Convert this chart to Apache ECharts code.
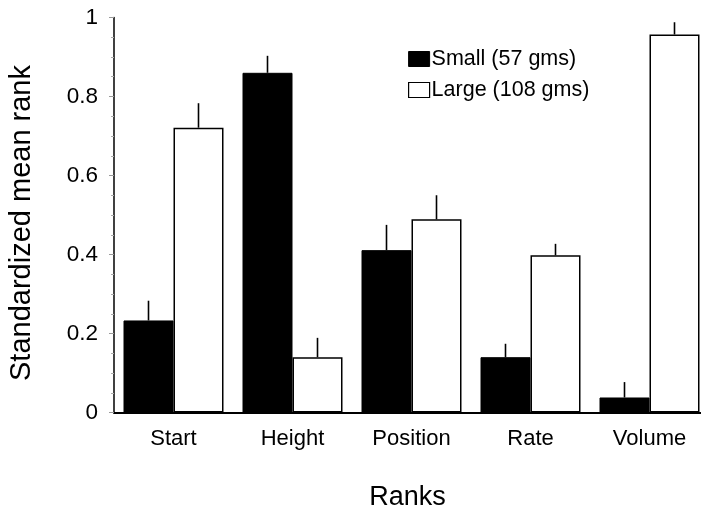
<!DOCTYPE html>
<html>
<head>
<meta charset="utf-8">
<script src="https://cdn.jsdelivr.net/npm/echarts@6/dist/echarts.min.js"></script>
<style>
html,body{margin:0;padding:0;background:#fff;}
#c{width:701px;height:510px;}
</style>
</head>
<body>
<div id="c"></div>
<script>
const categories = ['Start', 'Height', 'Position', 'Rate', 'Volume'];
const smallMean = [0.233, 0.86, 0.411, 0.14, 0.038];
const smallErr  = [0.05, 0.043, 0.064, 0.034, 0.039];
const largeMean = [0.721, 0.14, 0.489, 0.398, 0.957];
const largeErr  = [0.062, 0.049, 0.061, 0.029, 0.031];
const seriesNames = ['Small (57 gms)', 'Large (108 gms)'];

const FONT = "'Liberation Sans', Arial, sans-serif";
const BAR_W = 50;

function errData(means, errs) {
  return means.map((m, i) => [i, m, errs[i]]);
}
function errRenderer(sign) {
  return function (params, api) {
    const c = api.value(0), v = api.value(1), e = api.value(2);
    const p0 = api.coord([c, v]);
    const p1 = api.coord([c, v + e]);
    const x = p0[0] + sign * BAR_W / 2;
    return {
      type: 'line',
      shape: { x1: x, y1: p0[1], x2: x, y2: p1[1] },
      style: { stroke: '#000', lineWidth: 1.6 }
    };
  };
}

const chart = echarts.init(document.getElementById('c'), null, { renderer: 'canvas' });
chart.setOption({
  backgroundColor: '#fff',
  animation: false,
  grid: { left: 114, top: 17.5, right: -8, bottom: 97.5, containLabel: false, outerBoundsMode: 'none' },
  legend: {
    orient: 'vertical',
    left: 408,
    top: 48,
    padding: 0,
    itemWidth: 21,
    itemHeight: 15,
    itemGap: 9,
    icon: 'rect',
    textStyle: { fontFamily: FONT, fontSize: 21.5, color: '#000', padding: [0, 0, 0, -3] },
    data: [
      { name: seriesNames[0], itemStyle: { color: '#000', borderColor: '#000', borderWidth: 1 } },
      { name: seriesNames[1], itemStyle: { color: '#fff', borderColor: '#000', borderWidth: 1.2 } }
    ]
  },
  xAxis: {
    type: 'category',
    data: categories,
    name: 'Ranks',
    nameLocation: 'middle',
    nameGap: 72,
    nameTextStyle: { fontFamily: FONT, fontSize: 27, color: '#000', padding: [0, 8, 0, 0] },
    axisLine: { lineStyle: { color: '#000', width: 2 } },
    axisTick: { alignWithLabel: true, length: 8, lineStyle: { color: '#777', width: 1 } },
    axisLabel: { fontFamily: FONT, fontSize: 22, color: '#000', margin: 15 },
    splitLine: { show: false }
  },
  yAxis: {
    type: 'value',
    min: 0,
    max: 1,
    interval: 0.2,
    name: 'Standardized mean rank',
    nameLocation: 'middle',
    nameGap: 78,
    nameTextStyle: { fontFamily: FONT, fontSize: 29, color: '#000', padding: [0, 16, 0, 0] },
    axisLine: { show: true, lineStyle: { color: '#000', width: 1.5 } },
    axisTick: { show: true, length: 5, lineStyle: { color: '#999', width: 1 } },
    minorTick: { show: true, splitNumber: 4, length: 3, lineStyle: { color: '#aaa', width: 1 } },
    axisLabel: { fontFamily: FONT, fontSize: 22.5, color: '#000', margin: 16 },
    splitLine: { show: false }
  },
  series: [
    {
      name: seriesNames[0],
      type: 'bar',
      data: smallMean,
      barWidth: BAR_W,
      barGap: '0%',
      itemStyle: { color: '#000', borderColor: '#000', borderWidth: 1 }
    },
    {
      name: seriesNames[1],
      type: 'bar',
      data: largeMean,
      barWidth: BAR_W,
      barGap: '0%',
      itemStyle: { color: '#fff', borderColor: '#000', borderWidth: 1.5 }
    },
    {
      type: 'custom',
      name: 'errSmall',
      renderItem: errRenderer(-1),
      data: errData(smallMean, smallErr),
      z: 5,
      silent: true
    },
    {
      type: 'custom',
      name: 'errLarge',
      renderItem: errRenderer(1),
      data: errData(largeMean, largeErr),
      z: 5,
      silent: true
    }
  ]
});
</script>
</body>
</html>
